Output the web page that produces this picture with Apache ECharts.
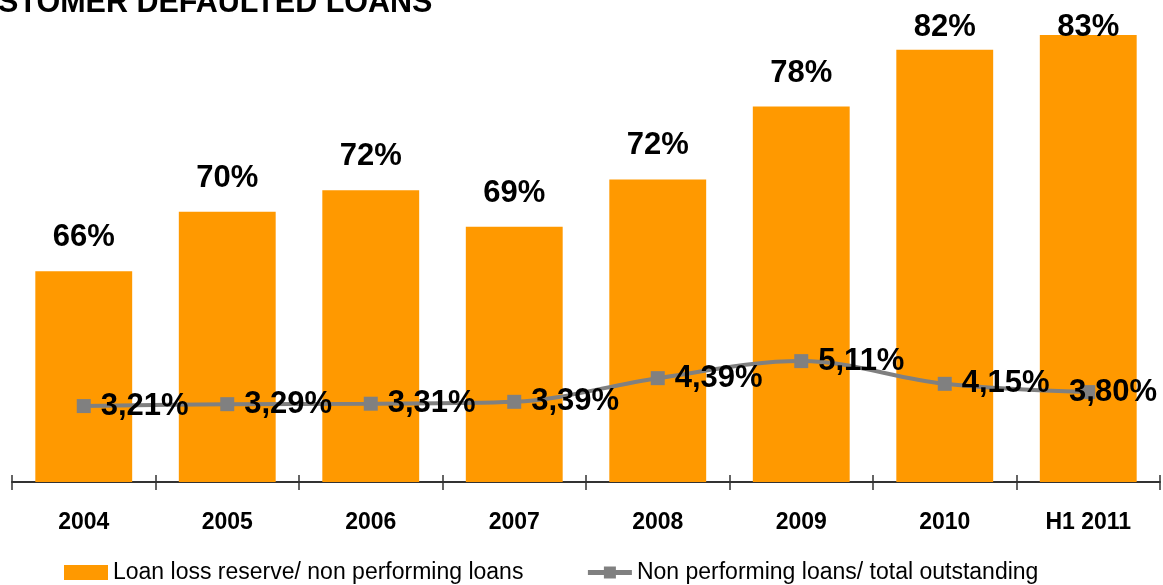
<!DOCTYPE html>
<html>
<head>
<meta charset="utf-8">
<script src="https://cdn.jsdelivr.net/npm/echarts@6/dist/echarts.min.js"></script>
<style>
  html, body { margin: 0; padding: 0; background: #fff; }
  #chart { width: 1163px; height: 585px; }
</style>
</head>
<body>
<div id="chart"></div>
<script>
// data
const categories = ["2004", "2005", "2006", "2007", "2008", "2009", "2010", "H1 2011"];
const reserveRatio = [65.6, 70.0, 71.6, 68.9, 72.4, 77.8, 82.0, 83.1]; // Loan loss reserve / NPL, %
const nplRatio = [3.21, 3.29, 3.31, 3.39, 4.39, 5.11, 4.15, 3.80];     // NPL / total outstanding, %

const arial = "'Liberation Sans', Arial, sans-serif";

let myChart = echarts.init(document.getElementById("chart"));
myChart.setOption({
  animation: false,
  graphic: [
    {
      type: "text",
      left: -46,
      top: -12,
      style: {
        text: "CUSTOMER DEFAULTED LOANS",
        font: "bold 30.5px " + arial,
        fill: "#000"
      }
    }
  ],
  grid: {
    left: 12,
    right: 3,
    top: 16,
    bottom: 103
  },
  legend: {
    top: 556,
    left: 59,
    itemWidth: 44,
    itemHeight: 15,
    itemGap: 62,
    textStyle: { fontFamily: arial, fontSize: 23, color: "#000" },
    data: [
      { name: "Loan loss reserve/ non performing loans", icon: "rect" },
      { name: "Non performing loans/ total outstanding", lineStyle: { width: 5, color: "#808080" } }
    ]
  },
  xAxis: [
    {
      type: "category",
      data: categories,
      axisLine: { show: true, lineStyle: { color: "#333", width: 2 } },
      axisTick: { show: true, length: 8, lineStyle: { color: "#333", width: 1.5 } },
      axisLabel: {
        margin: 29,
        color: "#000",
        fontFamily: arial,
        fontWeight: "bold",
        fontSize: 23
      }
    },
    {
      // inner half of the ticks
      type: "category",
      position: "bottom",
      data: categories,
      axisLine: { show: false },
      axisTick: { show: true, inside: true, length: 7, lineStyle: { color: "#333", width: 1.5 } },
      axisLabel: { show: false }
    }
  ],
  yAxis: [
    { type: "value", min: 50, max: 84.5, show: false, splitLine: { show: false } },
    { type: "value", min: 0, max: 19.7, show: false, splitLine: { show: false } }
  ],
  series: [
    {
      name: "Loan loss reserve/ non performing loans",
      type: "bar",
      data: reserveRatio,
      barCategoryGap: "32.5%",
      itemStyle: { color: "#FF9900" },
      label: {
        show: true,
        position: "top",
        distance: 18,
        color: "#000",
        fontFamily: arial,
        fontWeight: "bold",
        fontSize: 31,
        formatter: function(p) {
          return Math.round(p.value) + "%";
        }
      },
      labelLayout: function(params) {
        // keep labels inside the top of the picture
        return { dy: Math.max(0, 12 - params.labelRect.y) };
      }
    },
    {
      name: "Non performing loans/ total outstanding",
      type: "line",
      yAxisIndex: 1,
      data: nplRatio,
      smooth: 0.35,
      symbol: "rect",
      symbolSize: 14,
      itemStyle: { color: "#808080" },
      lineStyle: { color: "#808080", width: 4 },
      label: {
        show: true,
        position: "right",
        distance: 10,
        color: "#000",
        fontFamily: arial,
        fontWeight: "bold",
        fontSize: 31,
        formatter: function(p) {
          return p.value.toFixed(2).replace(".", ",") + "%";
        }
      },
      labelLayout: function(params) {
        // pull the last label back inside the right edge
        const r = params.labelRect;
        return { dx: Math.min(0, 1157 - (r.x + r.width)) };
      }
    }
  ]
});
</script>
</body>
</html>
